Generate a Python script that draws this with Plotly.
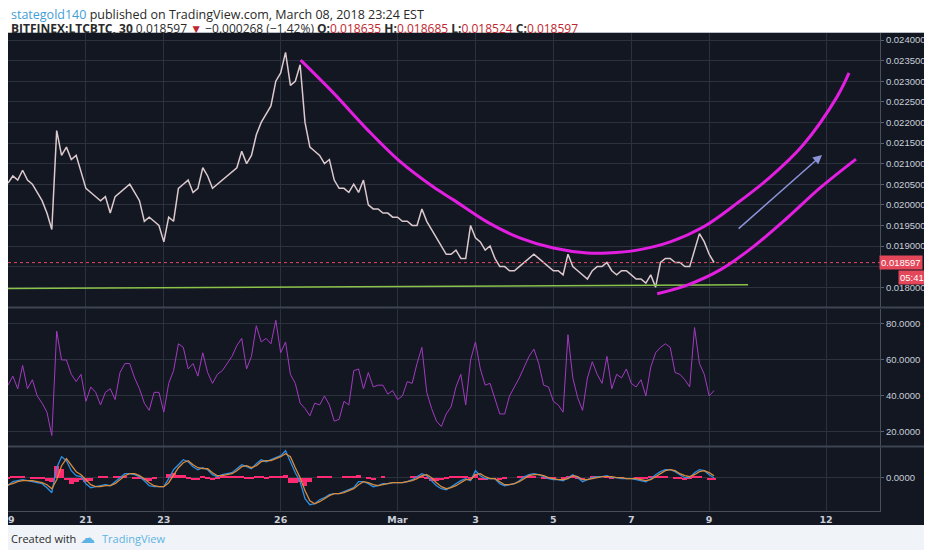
import pandas as pd
import plotly.graph_objects as go
from plotly.subplots import make_subplots

# LTCBTC, closes every 3 hours (Feb 19 00:00 -> Mar 9 03:00)
close = [
    0.02053, 0.02070, 0.02060, 0.02084, 0.02060, 0.02050, 0.02030, 0.02010,
    0.01980, 0.01940, 0.02180, 0.02120, 0.02140, 0.02110, 0.02120, 0.02080,
    0.02040, 0.02030, 0.02020, 0.02010, 0.02020, 0.01980, 0.02020, 0.02030,
    0.02040, 0.02050, 0.02030, 0.02010, 0.01960, 0.01970, 0.01960, 0.01950,
    0.01910, 0.01970, 0.01960, 0.02040, 0.02050, 0.02060, 0.02030, 0.02040,
    0.02090, 0.02070, 0.02040, 0.02050, 0.02060, 0.02070, 0.02080, 0.02090,
    0.02130, 0.02100, 0.02120, 0.02170, 0.02200, 0.02220, 0.02240, 0.02300,
    0.02320, 0.02370, 0.02290, 0.02300, 0.02340, 0.02200, 0.02140, 0.02130,
    0.02120, 0.02100, 0.02110, 0.02060, 0.02040, 0.02040, 0.02030, 0.02050,
    0.02030, 0.02060, 0.02000, 0.01990, 0.01990, 0.01980, 0.01980, 0.01970,
    0.01970, 0.01960, 0.01960, 0.01950, 0.01950, 0.01990, 0.01960, 0.01940,
    0.01920, 0.01900, 0.01880, 0.01880, 0.01890, 0.01870, 0.01870, 0.01950,
    0.01920, 0.01910, 0.01890, 0.01900, 0.01870, 0.01850, 0.01850, 0.01840,
    0.01840, 0.01850, 0.01860, 0.01870, 0.01880, 0.01870, 0.01860, 0.01850,
    0.01840, 0.01840, 0.01830, 0.01880, 0.01850, 0.01840, 0.01830, 0.01820,
    0.01840, 0.01850, 0.01850, 0.01860, 0.01840, 0.01830, 0.01840, 0.01840,
    0.01830, 0.01820, 0.01820, 0.01810, 0.01830, 0.01800, 0.01860, 0.01870,
    0.01870, 0.01860, 0.01860, 0.01850, 0.01850, 0.01890, 0.01930, 0.01910,
    0.01880, 0.01860,
]

rsi = [
    46, 51, 44, 57, 44, 49, 40, 36, 31, 18, 76, 60, 60, 52, 48, 52,
    37, 45, 42, 35, 42, 44, 38, 53, 58, 58, 50, 44, 36, 32, 42, 42,
    31, 47, 54, 69, 67, 55, 58, 51, 64, 53, 47, 52, 54, 58, 62, 68,
    72, 55, 62, 79, 70, 72, 69, 82, 64, 70, 52, 47, 36, 33, 29, 36,
    35, 40, 35, 26, 27, 37, 35, 54, 55, 44, 53, 45, 46, 46, 41, 43,
    38, 40, 48, 47, 58, 67, 42, 33, 26, 23, 30, 34, 45, 52, 35, 60,
    70, 55, 46, 47, 38, 30, 30, 40, 45, 50, 56, 62, 66, 58, 46, 45,
    37, 35, 31, 74, 50, 39, 32, 50, 59, 52, 47, 62, 44, 52, 50, 55,
    47, 45, 49, 40, 56, 64, 67, 69, 67, 53, 52, 49, 45, 78, 58, 52,
    40, 43,
]

# MACD and signal, in units of 1e-5
macd = [
    -8, -4, -3, -2, -3, -4, -5, -6, -10, -15, 10, 21, 17, 7, 2, 1,
    -6, -10, -9, -8, -7, -8, -4, 0, 4, 4, 3, 1, -3, -8, -9, -9,
    -9, -1, 8, 13, 18, 16, 11, 8, 10, 8, 3, 1, 3, 4, 5, 9,
    13, 11, 9, 14, 18, 16, 18, 20, 22, 27, 16, 5, -4, -21, -27, -26,
    -22, -20, -17, -16, -16, -14, -12, -10, -4, -4, -6, -9, -8, -6, -6, -5,
    -5, -5, -4, -2, 1, 4, 2, -3, -8, -11, -12, -9, -6, -3, -1, -3,
    7, 2, -1, -1, -1, -6, -8, -7, -6, -3, 1, 3, 4, 3, 1, -1,
    -2, -2, -3, 0, 3, 0, -4, -2, 0, 1, 1, 2, 0, 0, -1, -1,
    -1, -2, -3, -4, -1, 3, 6, 8, 8, 6, 3, 0, 0, 5, 8, 7,
    3, 0,
]
signal = [
    -7, -6, -4, -3, -3, -3, -4, -5, -7, -11, -2, 12, 19, 13, 6, 3,
    -2, -7, -9, -9, -8, -8, -6, -2, 2, 4, 4, 2, -1, -5, -8, -9,
    -9, -5, 3, 10, 15, 17, 13, 10, 9, 9, 5, 2, 2, 3, 4, 7,
    11, 12, 10, 12, 16, 17, 17, 19, 21, 24, 21, 10, 0, -13, -23, -26,
    -24, -21, -18, -16, -16, -15, -13, -11, -7, -4, -5, -7, -8, -7, -6, -5,
    -5, -5, -4, -3, -1, 2, 3, 0, -5, -9, -11, -10, -8, -5, -2, -2,
    3, 4, 1, -1, -1, -4, -7, -7, -6, -4, -1, 2, 3, 3, 2, 0,
    -1, -2, -2, -1, 2, 1, -2, -2, -1, 0, 1, 1, 1, 0, 0, -1,
    -1, -1, -2, -3, -2, 1, 4, 7, 8, 7, 4, 2, 1, 3, 6, 7,
    5, 2,
]

# hand drawn trend curves / lines on the chart
cup_dates = ["2018-02-26 12:18", "2018-02-27 08:37", "2018-02-28 05:32", "2018-03-01 01:51",
             "2018-03-01 22:09", "2018-03-02 10:28", "2018-03-03 07:23", "2018-03-04 03:42",
             "2018-03-05 00:00", "2018-03-05 20:55", "2018-03-06 09:14", "2018-03-07 03:42",
             "2018-03-08 00:00", "2018-03-08 20:18", "2018-03-09 17:14", "2018-03-10 13:32",
             "2018-03-11 09:50", "2018-03-12 06:46", "2018-03-12 14:10"]
cup_prices = [0.02351, 0.02271, 0.02182, 0.02104, 0.02043, 0.02012, 0.01958, 0.01919,
              0.01895, 0.01883, 0.01883, 0.01890, 0.01910, 0.01946, 0.02004, 0.02067,
              0.02145, 0.02262, 0.02320]
low_dates = ["2018-03-07 16:00", "2018-03-08 10:28", "2018-03-09 06:46", "2018-03-10 03:05",
             "2018-03-11 00:00", "2018-03-11 20:18", "2018-03-12 18:28"]
low_prices = [0.01784, 0.01805, 0.01842, 0.01898, 0.01968, 0.02041, 0.02111]
support_dates = ["2018-02-18 20:00", "2018-03-10 00:00"]
support_prices = [0.01797, 0.01806]
arrow_from = ("2018-03-09 17:14", 0.01939)
arrow_to = ("2018-03-11 21:32", 0.02121)
last_price = 0.018597

tick_dates = ["2018-02-19", "2018-02-21", "2018-02-23", "2018-02-26", "2018-03-01",
              "2018-03-03", "2018-03-05", "2018-03-07", "2018-03-09", "2018-03-12"]
tick_text = ["19", "21", "23", "26", "Mar", "3", "5", "7", "9", "12"]
price_ticks = [0.0180 + 0.0005 * k for k in range(13)]
# the 0.018500 label sits under the last-price tag, so it is left blank
price_labels = ["" if abs(v - 0.0185) < 1e-9 else "%.6f" % v for v in price_ticks]

BG = "#131722"
GRID = "#2c313e"
TXT = "#c9ced8"

dates = pd.date_range("2018-02-19", periods=len(close), freq="3h")
hist = [m - s for m, s in zip(macd, signal)]

fig = make_subplots(rows=3, cols=1, shared_xaxes=True, vertical_spacing=0)

# price trace (dense 30m candles look like a thin jagged pale line)
fig.add_trace(go.Scatter(x=dates, y=close, mode="lines",
                         line=dict(color="#dcc9cd", width=1.5)), row=1, col=1)

fig.add_trace(go.Scatter(x=support_dates, y=support_prices, mode="lines",
                         line=dict(color="#8bc34a", width=1.5)), row=1, col=1)
fig.add_trace(go.Scatter(x=cup_dates, y=cup_prices, mode="lines", line_shape="spline",
                         line=dict(color="#e21fe0", width=3)), row=1, col=1)
fig.add_trace(go.Scatter(x=low_dates, y=low_prices, mode="lines", line_shape="spline",
                         line=dict(color="#e21fe0", width=3)), row=1, col=1)
fig.add_hline(y=last_price, row=1, col=1, line=dict(color="#e0475a", width=1, dash="dot"))

# RSI panel
fig.add_hrect(y0=30, y1=70, row=2, col=1, fillcolor="rgba(120, 45, 170, 0.28)",
              line_width=0, layer="below")
fig.add_hline(y=70, row=2, col=1, line=dict(color="#b4b6c8", width=1, dash="dash"))
fig.add_hline(y=30, row=2, col=1, line=dict(color="#b4b6c8", width=1, dash="dash"))
fig.add_trace(go.Scatter(x=dates, y=rsi, mode="lines",
                         line=dict(color="#a23ac0", width=1)), row=2, col=1)

# MACD panel
fig.add_trace(go.Bar(x=dates, y=hist, width=3 * 3600 * 1000, marker_color="#ff2a72",
                     marker_line_width=0), row=3, col=1)
fig.add_trace(go.Scatter(x=dates, y=macd, mode="lines",
                         line=dict(color="#2b8fe6", width=1.3)), row=3, col=1)
fig.add_trace(go.Scatter(x=dates, y=signal, mode="lines",
                         line=dict(color="#d98b3c", width=1.3)), row=3, col=1)


# the page has an 8px body margin, so page pixel p sits at figure pixel p - 8
def px_x(px):
    return (px - 8) / 872


def px_y(py):
    return (511 - py) / 478


xcommon = dict(range=["2018-02-19 00:00", "2018-03-13 09:15"], tickvals=tick_dates,
               ticktext=["<b>%s</b>" % t for t in tick_text], showgrid=True,
               gridcolor=GRID, gridwidth=1, zeroline=False, automargin=False,
               rangeslider=dict(visible=False))
yright = dict(side="right", gridcolor=GRID, zeroline=False, showline=True,
              linecolor="#4a4f5c", ticks="outside", ticklen=3, tickcolor="#5c6170",
              automargin=False, ticklabeloverflow="allow",
              tickfont=dict(family="Liberation Sans", size=9.5, color=TXT))
fig.update_layout(
    xaxis=dict(**xcommon, showticklabels=False),
    xaxis2=dict(**xcommon, showticklabels=False),
    xaxis3=dict(**xcommon, showticklabels=True, showline=True, linecolor="#4a4f5c",
                ticklabeloverflow="allow",
                tickfont=dict(family="DejaVu Sans", size=9.5, color=TXT)),
    yaxis=dict(domain=[px_y(307), 1], range=[0.01752, 0.02417],
               tickvals=price_ticks, ticktext=price_labels, **yright),
    yaxis2=dict(domain=[px_y(446), px_y(309)], range=[12.2, 88.3],
                tickvals=[20, 40, 60, 80], tickformat=".4f", **yright),
    yaxis3=dict(domain=[0, px_y(447)], range=[-33.3, 30.7],
                tickvals=[0], ticktext=["0.0000"], **yright),
    width=924, height=542,
    margin=dict(l=0, r=52, t=25, b=39),
    paper_bgcolor="#f0f3f7", plot_bgcolor=BG,
    showlegend=False, bargap=0,
    font=dict(family="Liberation Sans", size=10, color=TXT),
)

# dark chart area, white header, panel separators
fig.add_shape(type="rect", xref="paper", yref="paper", x0=px_x(5), x1=px_x(928),
              y0=px_y(525), y1=px_y(33), fillcolor=BG, line_width=0, layer="below")
fig.add_shape(type="rect", xref="paper", yref="paper", x0=px_x(0), x1=px_x(932),
              y0=px_y(32), y1=px_y(0), fillcolor="white", line_width=0, layer="below")
fig.add_shape(type="line", xref="paper", yref="paper", x0=px_x(0), x1=px_x(932),
              y0=px_y(32.5), y1=px_y(32.5), line=dict(color="#b9bec6", width=1))
for py in [307.5, 446.5]:
    fig.add_shape(type="line", xref="paper", yref="paper", x0=px_x(5), x1=px_x(928),
                  y0=px_y(py), y1=px_y(py), line=dict(color="#3f4452", width=2))

# arrow
fig.add_annotation(x=arrow_to[0], y=arrow_to[1], ax=arrow_from[0], ay=arrow_from[1],
                   xref="x", yref="y", axref="x", ayref="y", text="", showarrow=True,
                   arrowhead=2, arrowsize=1.2, arrowwidth=1.5, arrowcolor="#8d93d8")

# last price tags on the price scale
fig.add_annotation(x=px_x(879), y=last_price, xref="paper", yref="y", xanchor="left",
                   text="0.018597", showarrow=False, bgcolor="#e4475a", borderpad=1,
                   font=dict(family="Liberation Sans", size=9.5, color="white"))
fig.add_annotation(x=px_x(898), y=last_price, xref="paper", yref="y", xanchor="left",
                   yshift=-15, text="05:41", showarrow=False, bgcolor="#e4475a", borderpad=1,
                   font=dict(family="Liberation Sans", size=9.5, color="white"))

# header, two lines in one text block
red = "<span style='color:#c0262d'>%s</span>"
line1 = ("<span style='font-size:12.5px'><span style='color:#3fa0d6'>stategold140</span>"
         " published on TradingView.com, March 08, 2018 23:24 EST</span>")
line2 = ("<span style='font-size:12px'><b>BITFINEX:LTCBTC, 30</b> 0.018597 " + red % "▼" +
         " −0.000268 (−1.42%) <b>O:</b>" + red % "0.018635" + " <b>H:</b>" + red % "0.018685" +
         " <b>L:</b>" + red % "0.018524" + " <b>C:</b>" + red % "0.018597" + "</span>")
fig.add_annotation(x=px_x(9), y=px_y(21.5), xref="paper", yref="paper", xanchor="left",
                   yanchor="middle", align="left", showarrow=False,
                   font=dict(family="Open Sans", size=11, color="#2a2a2a"),
                   text=line1 + "<br>" + line2)

# footer
fig.add_annotation(x=px_x(9), y=px_y(538), xref="paper", yref="paper", xanchor="left",
                   yanchor="middle", showarrow=False, text="Created with",
                   font=dict(family="Open Sans", size=11, color="#2b2b2b"))
fig.add_annotation(x=px_x(78), y=px_y(538), xref="paper", yref="paper", xanchor="left",
                   yanchor="middle", showarrow=False, text="☁",
                   font=dict(family="DejaVu Sans", size=15, color="#5db3e3"))
fig.add_annotation(x=px_x(100), y=px_y(538), xref="paper", yref="paper", xanchor="left",
                   yanchor="middle", showarrow=False, text="TradingView",
                   font=dict(family="Open Sans", size=11, color="#5db3e3"))

fig.write_html("out.html")
